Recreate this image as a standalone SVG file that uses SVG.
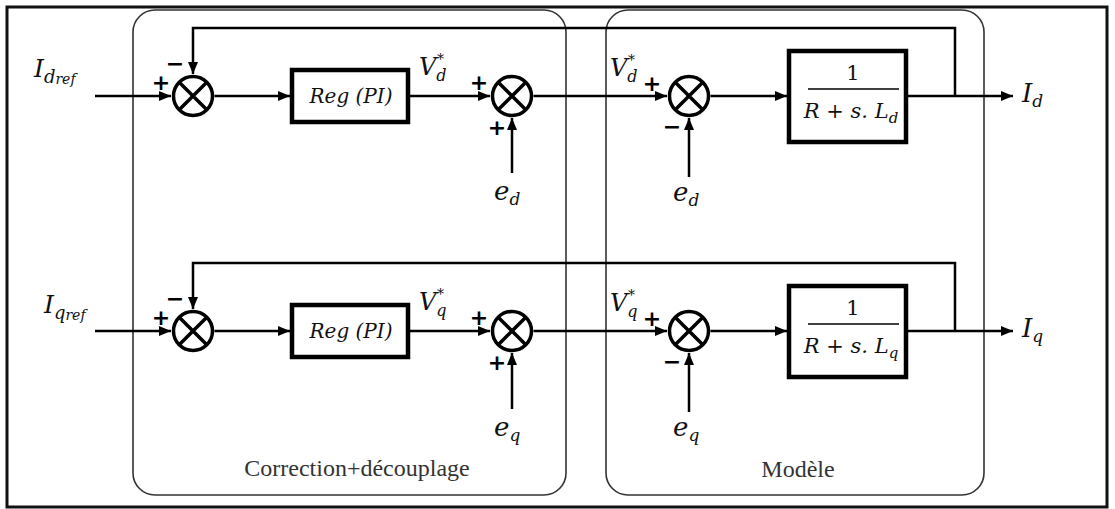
<svg xmlns="http://www.w3.org/2000/svg" width="1115" height="509" viewBox="0 0 1115 509">
<style>
.frame{fill:none;stroke:#111;stroke-width:3}
.grp{fill:none;stroke:#333;stroke-width:1.6}
.blk{fill:#fff;stroke:#000;stroke-width:4.5}
.sum{fill:#fff;stroke:#000;stroke-width:3.5}
.x{stroke:#000;stroke-width:3.5}
.wire{fill:none;stroke:#000;stroke-width:2.5}
.bar{stroke:#000;stroke-width:1.5}
.m{font-family:'DejaVu Serif','Liberation Serif',serif;font-style:italic;fill:#111}
.n{font-family:'DejaVu Serif','Liberation Serif',serif;fill:#111}
.cap{font-family:'Liberation Serif','DejaVu Serif',serif;font-size:24px;fill:#333}
.sg{font-family:'DejaVu Sans','Liberation Sans',sans-serif;font-weight:bold;font-size:22px;fill:#000}
</style>
<defs>
<marker id="arr" markerUnits="userSpaceOnUse" markerWidth="13" markerHeight="11" refX="12" refY="5" orient="auto">
<path d="M0,0 L12,5 L0,10 Z" fill="#000"/>
</marker>
</defs>
<rect width="1115" height="509" fill="#fff"/>
<rect id="frame" class="frame" x="7" y="7" width="1100" height="500"/>

<g id="group-correction">
<rect class="grp" x="133" y="10" width="433" height="485" rx="22"/>
<text class="cap" x="357" y="476" text-anchor="middle">Correction+découplage</text>
</g>
<g id="group-modele">
<rect class="grp" x="606" y="10" width="378" height="485" rx="22"/>
<text class="cap" x="798" y="477" text-anchor="middle">Modèle</text>
</g>

<g id="connectors">
<path class="wire" d="M95,96 H171" marker-end="url(#arr)"/>
<path class="wire" d="M214.5,96 H290" marker-end="url(#arr)"/>
<path class="wire" d="M410,96 H490" marker-end="url(#arr)"/>
<path class="wire" d="M512,173 V118" marker-end="url(#arr)"/>
<path class="wire" d="M533.5,96 H667" marker-end="url(#arr)"/>
<path class="wire" d="M689,177 V118" marker-end="url(#arr)"/>
<path class="wire" d="M710.5,96 H787" marker-end="url(#arr)"/>
<path class="wire" d="M908,96 H1013" marker-end="url(#arr)"/>
<path class="wire" d="M955,96 V28 H193 V74" marker-end="url(#arr)"/>
<path class="wire" d="M95,331 H171" marker-end="url(#arr)"/>
<path class="wire" d="M214.5,331 H290" marker-end="url(#arr)"/>
<path class="wire" d="M410,331 H490" marker-end="url(#arr)"/>
<path class="wire" d="M512,409 V353" marker-end="url(#arr)"/>
<path class="wire" d="M533.5,331 H667" marker-end="url(#arr)"/>
<path class="wire" d="M689,412 V353" marker-end="url(#arr)"/>
<path class="wire" d="M710.5,331 H787" marker-end="url(#arr)"/>
<path class="wire" d="M908,331 H1013" marker-end="url(#arr)"/>
<path class="wire" d="M955,331 V263 H193 V309" marker-end="url(#arr)"/>
</g>

<g id="in-idref">
<text class="m" x="34" y="77" font-size="25">I<tspan font-size="18" dy="6">d</tspan><tspan font-size="14" dy="1">ref</tspan></text>
</g>
<g id="in-iqref">
<text class="m" x="44" y="313" font-size="25">I<tspan font-size="18" dy="6">q</tspan><tspan font-size="14" dy="1">ref</tspan></text>
</g>

<g id="sum1-d">
<circle class="sum" cx="193" cy="96" r="19.5"/>
<path class="x" d="M179.2,82.2 L206.8,109.8 M206.8,82.2 L179.2,109.8"/>
<text class="sg" x="161" y="90" text-anchor="middle">+</text>
<text class="sg" x="175" y="71" text-anchor="middle">−</text>
</g>
<g id="pi-d">
<rect class="blk" x="292" y="70" width="116" height="52"/>
<text class="m" x="351" y="103" font-size="20" text-anchor="middle">Reg (PI)</text>
</g>
<g id="vd-label-1"><text class="m" x="419" y="75" font-size="24">V<tspan font-size="16" dy="6">d</tspan></text><text class="m" x="437" y="64" font-size="14">*</text></g>
<g id="sum2-d">
<circle class="sum" cx="512" cy="96" r="19.5"/>
<path class="x" d="M498.2,82.2 L525.8,109.8 M525.8,82.2 L498.2,109.8"/>
<text class="sg" x="479" y="90" text-anchor="middle">+</text>
<text class="sg" x="497" y="135" text-anchor="middle">+</text>
</g>
<g id="ed-1"><text class="m" x="494" y="200" font-size="26">e<tspan font-size="17" dy="5">d</tspan></text></g>
<g id="vd-label-2"><text class="m" x="610" y="76" font-size="24">V<tspan font-size="16" dy="6">d</tspan></text><text class="m" x="628" y="65" font-size="14">*</text></g>
<g id="sum3-d">
<circle class="sum" cx="689" cy="96" r="19.5"/>
<path class="x" d="M675.2,82.2 L702.8,109.8 M702.8,82.2 L675.2,109.8"/>
<text class="sg" x="652" y="91" text-anchor="middle">+</text>
<text class="sg" x="672" y="134" text-anchor="middle">−</text>
</g>
<g id="ed-2"><text class="m" x="673" y="201" font-size="26">e<tspan font-size="17" dy="5">d</tspan></text></g>
<g id="plant-d">
<rect class="blk" x="789" y="51" width="117" height="91"/>
<text class="n" x="853" y="80" font-size="21" text-anchor="middle">1</text>
<line class="bar" x1="808" y1="89" x2="899" y2="89"/>
<text class="m" x="851" y="118" font-size="21" text-anchor="middle">R <tspan font-style="normal">+</tspan> s. L<tspan font-size="15" dy="5">d</tspan></text>
</g>
<g id="out-id"><text class="m" x="1022" y="102" font-size="26">I<tspan font-size="17" dy="5">d</tspan></text></g>

<g id="sum1-q">
<circle class="sum" cx="193" cy="331" r="19.5"/>
<path class="x" d="M179.2,317.2 L206.8,344.8 M206.8,317.2 L179.2,344.8"/>
<text class="sg" x="161" y="325" text-anchor="middle">+</text>
<text class="sg" x="175" y="306" text-anchor="middle">−</text>
</g>
<g id="pi-q">
<rect class="blk" x="292" y="305" width="116" height="52"/>
<text class="m" x="351" y="338" font-size="20" text-anchor="middle">Reg (PI)</text>
</g>
<g id="vq-label-1"><text class="m" x="419" y="310" font-size="24">V<tspan font-size="16" dy="6">q</tspan></text><text class="m" x="437" y="299" font-size="14">*</text></g>
<g id="sum2-q">
<circle class="sum" cx="512" cy="331" r="19.5"/>
<path class="x" d="M498.2,317.2 L525.8,344.8 M525.8,317.2 L498.2,344.8"/>
<text class="sg" x="479" y="325" text-anchor="middle">+</text>
<text class="sg" x="497" y="370" text-anchor="middle">+</text>
</g>
<g id="eq-1"><text class="m" x="494" y="436" font-size="26">e<tspan font-size="17" dy="5">q</tspan></text></g>
<g id="vq-label-2"><text class="m" x="610" y="311" font-size="24">V<tspan font-size="16" dy="6">q</tspan></text><text class="m" x="628" y="300" font-size="14">*</text></g>
<g id="sum3-q">
<circle class="sum" cx="689" cy="331" r="19.5"/>
<path class="x" d="M675.2,317.2 L702.8,344.8 M702.8,317.2 L675.2,344.8"/>
<text class="sg" x="652" y="326" text-anchor="middle">+</text>
<text class="sg" x="672" y="369" text-anchor="middle">−</text>
</g>
<g id="eq-2"><text class="m" x="673" y="436" font-size="26">e<tspan font-size="17" dy="5">q</tspan></text></g>
<g id="plant-q">
<rect class="blk" x="789" y="286" width="117" height="91"/>
<text class="n" x="853" y="315" font-size="21" text-anchor="middle">1</text>
<line class="bar" x1="808" y1="324" x2="899" y2="324"/>
<text class="m" x="851" y="353" font-size="21" text-anchor="middle">R <tspan font-style="normal">+</tspan> s. L<tspan font-size="15" dy="5">q</tspan></text>
</g>
<g id="out-iq"><text class="m" x="1022" y="337" font-size="26">I<tspan font-size="17" dy="5">q</tspan></text></g>
</svg>
